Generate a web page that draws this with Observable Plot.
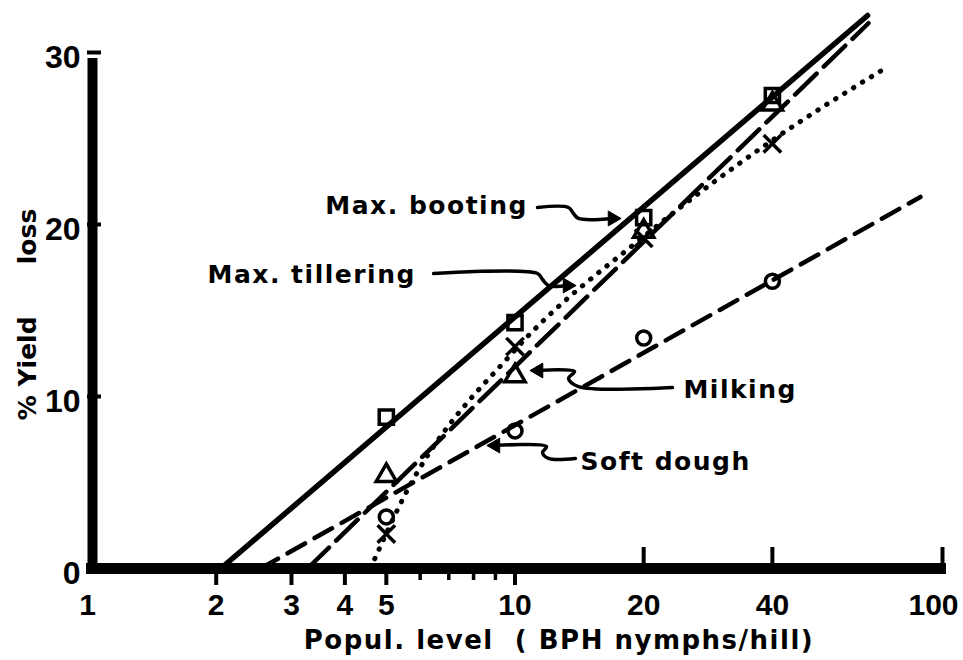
<!DOCTYPE html>
<html><head><meta charset="utf-8">
<script src="https://cdn.jsdelivr.net/npm/d3@7"></script>
<script src="https://cdn.jsdelivr.net/npm/@observablehq/plot@0.6"></script>
<style>body{margin:0;background:#fff}</style>
</head><body><div id="chart"></div>
<script>
// Observed yield loss (%) at population levels (BPH nymphs/hill)
const popLevels = [5, 10, 20, 40];
const bootingLoss = [8.8, 14.3, 20.4, 27.5];
const tilleringLoss = [5.4, 11.2, 19.6, 27.0];
const milkingLoss = [2.0, 12.9, 19.2, 24.7];
const softDoughLoss = [3.0, 8.0, 13.4, 16.7];

// Fitted lines
const bootingFitX = [2.05, 66.8];
const bootingFitY = [0, 32.15];
const tilleringFitX = [3.27, 67.1];
const tilleringFitY = [0, 31.7];
const milkingFitX = [4.59, 5.48, 10, 20, 40, 73.6];
const milkingFitY = [0, 4.1, 12.7, 19.3, 24.9, 29.1];
const softDoughFitX = [2.54, 88.8];
const softDoughFitY = [0, 21.6];

// Axes
const xTickLabels = [1, 2, 3, 4, 5, 10, 20, 40];
const xTickLabelsEnd = [100];
const xTicksDown = [2, 3, 4, 5, 10];
const xTicksMinor = [6, 7, 8, 9];
const xTicksUp = [20, 40, 100];
const yTickLabels = [0, 10, 20, 30];
const yTicks = [10, 20, 30];
const xTitle = "Popul. level\u00a0\u00a0( BPH nymphs/hill)";
const yTitle = "% Yield\u00a0\u00a0\u00a0\u00a0\u00a0\u00a0loss";

// Annotations
const labelText = ["Max. booting", "Max. tillering", "Milking", "Soft dough"];
const labelX = [3.60, 1.909, 24.78, 14.23];
const labelY = [21.1, 17.09, 10.35, 6.22];
const arrowPaths = [
  [[11.29, 20.99], [13.34, 20.99], [13.70, 20.64], [14.08, 20.35], [16.91, 20.35]],
  [[6.45, 17.15], [11.29, 17.15], [11.60, 16.80], [11.98, 16.45], [13.27, 16.45]],
  [[23.35, 10.52], [14.08, 10.58], [13.34, 11.05], [13.78, 11.45], [11.35, 11.51]],
  [[13.85, 6.40], [11.98, 6.40], [11.60, 6.74], [11.85, 7.09], [9.00, 7.15]]
];
const arrowHeadDir = [90, 90, -90, -90];

const obs = (ys) => popLevels.map((x, i) => ({x, y: ys[i]}));
const fit = (xs, ys) => xs.map((x, i) => ({x, y: ys[i]}));
const arrowPts = arrowPaths.flatMap((p, k) => p.map(([x, y]) => ({x, y, k})));
const heads = arrowPaths.map((p, k) => ({x: p[p.length - 1][0], y: p[p.length - 1][1], r: arrowHeadDir[k]}));
const labels = labelText.map((t, i) => ({t, x: labelX[i], y: labelY[i]}));

const digitFont = "Liberation Sans";
const textFont = "DejaVu Sans";
const blank = () => "";
const xLabelOpts = {tickSize: 0, tickPadding: 25, tickFormat: d => String(d), label: null,
  fontSize: 30, fontWeight: "bold", fontFamily: digitFont};

const chart = Plot.plot({
  width: 963, height: 660,
  marginLeft: 87, marginRight: 21, marginTop: 52, marginBottom: 92,
  x: {type: "log", domain: [1, 100], axis: null},
  y: {domain: [0, 30], axis: null},
  clip: false,
  style: {background: "#fff", color: "#000", fontFamily: textFont},
  marks: [
    // axis lines
    Plot.ruleX([1], {y1: 0, y2: 30, dx: 5, stroke: "black", strokeWidth: 10, insetTop: -5, insetBottom: -6}),
    Plot.ruleY([0], {x1: 1, x2: 100, stroke: "black", strokeWidth: 11, insetLeft: -1, insetRight: -4}),
    // ticks
    Plot.axisX({ticks: xTicksDown, tickSize: 17, strokeWidth: 4, tickFormat: blank, label: null}),
    Plot.axisX({ticks: xTicksMinor, tickSize: 12, strokeWidth: 3.5, tickFormat: blank, label: null}),
    Plot.axisX({ticks: xTicksUp, tickSize: -21, strokeWidth: 4, tickFormat: blank, label: null}),
    Plot.axisY({ticks: yTicks, tickSize: -14, strokeWidth: 4, tickFormat: blank, label: null}),
    // tick labels
    Plot.axisX({ticks: xTickLabels, ...xLabelOpts}),
    Plot.axisX({ticks: xTickLabelsEnd, ...xLabelOpts, dx: -9}),
    Plot.axisY({ticks: yTickLabels, tickSize: 0, tickPadding: 7, tickFormat: d => String(d), label: null,
      fontSize: 32, fontWeight: "bold", fontFamily: digitFont, dy: 5}),
    // axis titles
    Plot.text([xTitle], {frameAnchor: "bottom", textAnchor: "middle", lineAnchor: "middle", dx: 44, dy: 72, fontSize: 26, fontWeight: "bold"}),
    Plot.text([yTitle], {frameAnchor: "left", textAnchor: "middle", lineAnchor: "middle", rotate: -90, dx: -60, dy: 4, fontSize: 25, fontWeight: "bold"}),
    // fitted lines
    Plot.line(fit(softDoughFitX, softDoughFitY), {x: "x", y: "y", stroke: "black", strokeWidth: 4.5, strokeDasharray: "20 11"}),
    Plot.line(fit(milkingFitX, milkingFitY), {x: "x", y: "y", stroke: "black", strokeWidth: 5, strokeDasharray: "0.5 10", strokeLinecap: "round", curve: "monotone-x"}),
    Plot.line(fit(tilleringFitX, tilleringFitY), {x: "x", y: "y", stroke: "black", strokeWidth: 4.5, strokeDasharray: "30 10"}),
    Plot.line(fit(bootingFitX, bootingFitY), {x: "x", y: "y", stroke: "black", strokeWidth: 5.5}),
    // observed points
    Plot.dot(obs(softDoughLoss), {x: "x", y: "y", symbol: "circle", r: 7, stroke: "black", strokeWidth: 3.5, fill: "none"}),
    Plot.dot(obs(milkingLoss), {x: "x", y: "y", symbol: "times", r: 8, stroke: "black", strokeWidth: 3.5}),
    Plot.dot(obs(tilleringLoss), {x: "x", y: "y", symbol: "triangle", r: 7.5, stroke: "black", strokeWidth: 3.5, fill: "none"}),
    Plot.dot(obs(bootingLoss), {x: "x", y: "y", symbol: "square", r: 8, stroke: "black", strokeWidth: 3.5, fill: "none"}),
    // annotations
    Plot.line(arrowPts, {x: "x", y: "y", z: "k", stroke: "black", strokeWidth: 3.5, curve: "catmull-rom"}),
    Plot.dot(heads, {x: "x", y: "y", rotate: "r", symbol: "triangle", r: 5.5, fill: "black", stroke: "black", strokeWidth: 1}),
    Plot.text(labels, {x: "x", y: "y", text: "t", textAnchor: "start", fontSize: 25, fontWeight: "bold"})
  ]
});

d3.select(chart).selectAll("text").each(function() {
  if (labelText.includes(this.textContent)) this.setAttribute("letter-spacing", "1.5");
  if (this.textContent === xTitle) this.setAttribute("letter-spacing", "1.5");
});

document.getElementById("chart").appendChild(chart);
</script>
</body></html>
